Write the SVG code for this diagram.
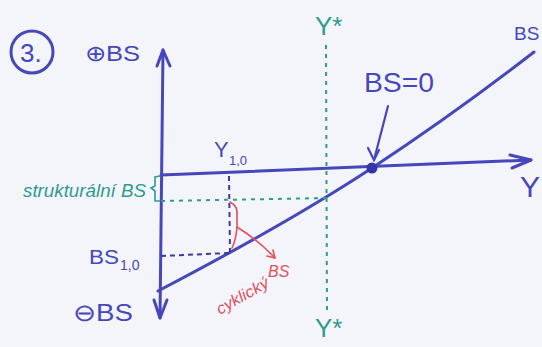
<svg xmlns="http://www.w3.org/2000/svg" width="542" height="347" viewBox="0 0 542 347">
<style>
.ink{stroke:#4646bd;fill:none;stroke-width:3;stroke-linecap:round;stroke-linejoin:round}
.thin{stroke:#4646bd;fill:none;stroke-width:2.2;stroke-linecap:round}
.dash{stroke:#3a3aa0;fill:none;stroke-width:2;stroke-dasharray:5 4}
.teal{stroke:#2f9a8e;fill:none;stroke-width:2;stroke-dasharray:4 5}
.red{stroke:#e0505e;fill:none;stroke-width:1.6;stroke-linecap:round;stroke-linejoin:round}
.tb{fill:#4646bd;font-family:'Liberation Sans',sans-serif}
.tt{fill:#2f9a8e;font-family:'Liberation Sans',sans-serif}
.tr{fill:#e0505e;font-family:'Liberation Sans',sans-serif}
</style>
<rect width="542" height="347" fill="#f4f5fb"/>
<g id="connectors">
<path class="ink" d="M160,318 L163,50"/>
<path class="ink" d="M157,66 L163,50 L170,66"/>
<path class="ink" d="M154,300 L160,318 L167,300"/>
<path class="ink" d="M161,175 L531,160"/>
<path class="ink" d="M510,155 L531,160 L512,168"/>
<path class="ink" d="M158,291 Q290,222 372,168 T534,52"/>
<path class="teal" d="M326,45 L327,312"/>
<path class="teal" d="M161,201 L327,198"/>
<path class="dash" d="M229,176 L230,252"/>
<path class="dash" d="M161,256 L229,253"/>
<path class="thin" d="M388,106 L374,160"/>
<path class="thin" d="M368,148 L374,160 L379,150"/>
<path fill="none" stroke="#2f9a8e" stroke-width="1.6" d="M160,176 L155,177 L155,186 L151,188 L155,191 L155,201 L160,201"/>
<path class="red" d="M230,202 Q238,206 237,215 L237,227 Q236,240 232,248"/>
<path class="red" d="M237,227 Q258,240 275,258"/>
<path class="red" d="M267,256 L275,258 L273,250"/>
</g>
<g id="origin-dot"><circle cx="372" cy="168" r="5.5" fill="#3434a8"/></g>
<g id="num"><circle cx="32" cy="52" r="21" fill="none" stroke="#4646bd" stroke-width="3"/><text class="tb" x="20" y="62" font-size="26">3.</text></g>
<g id="plus-bs"><text class="tb" x="85" y="61" font-size="22" textLength="55" lengthAdjust="spacingAndGlyphs">⊕BS</text></g>
<g id="minus-bs"><text class="tb" x="73" y="321" font-size="24" textLength="60" lengthAdjust="spacingAndGlyphs">⊖BS</text></g>
<g id="struct"><text class="tt" x="23" y="197" font-size="18" font-style="italic" textLength="123" lengthAdjust="spacingAndGlyphs">strukturální BS</text></g>
<g id="bs10"><text class="tb" x="89" y="264" font-size="20" textLength="30" lengthAdjust="spacingAndGlyphs">BS</text><text class="tb" x="120" y="270" font-size="14">1,0</text></g>
<g id="y10"><text class="tb" x="214" y="157" font-size="22">Y</text><text class="tb" x="229" y="165" font-size="13">1,0</text></g>
<g id="bs0"><text class="tb" x="364" y="92" font-size="28" textLength="70" lengthAdjust="spacingAndGlyphs">BS=0</text></g>
<g id="bs-line"><text class="tb" x="514" y="40" font-size="19">BS</text></g>
<g id="y-axis"><text class="tb" x="520" y="197" font-size="30">Y</text></g>
<g id="ystar-top"><text class="tt" x="315" y="35" font-size="26">Y*</text></g>
<g id="ystar-bot"><text class="tt" x="315" y="337" font-size="26">Y*</text></g>
<g id="cycl"><text class="tr" x="220" y="315" font-size="16" font-style="italic" transform="rotate(-30 220 315)" textLength="58" lengthAdjust="spacingAndGlyphs">cyklický</text><text class="tr" x="268" y="277" font-size="16" font-style="italic">BS</text></g>
</svg>
